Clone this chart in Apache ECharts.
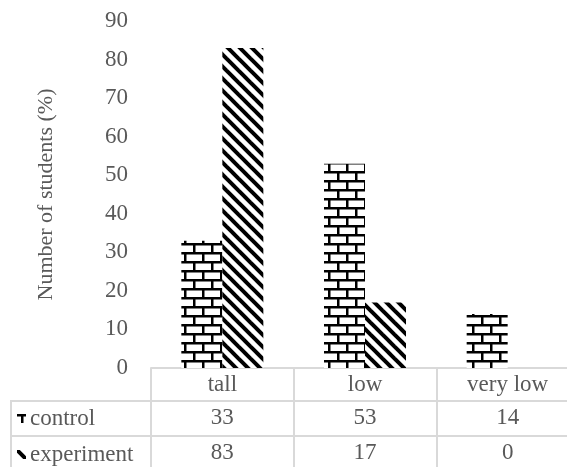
<!DOCTYPE html>
<html>
<head>
<meta charset="utf-8">
<script src="https://cdn.jsdelivr.net/npm/echarts@6/dist/echarts.min.js"></script>
<style>
html,body{margin:0;padding:0;background:#fff;}
#chart{width:567px;height:467px;}
</style>
</head>
<body>
<div id="chart"></div>
<script>
var categories = ['tall', 'low', 'very low'];
var controlValues = [33, 53, 14];
var experimentValues = [83, 17, 0];
var seriesNames = ['control', 'experiment'];
var yTitle = 'Number of students (%)';

var FONT = 'Liberation Serif';
var TXT = '#595959';
var LINE = '#d9d9d9';
var FS = 23;

function brickPattern() {
  var c = document.createElement('canvas');
  c.width = 18; c.height = 18;
  var g = c.getContext('2d');
  g.fillStyle = '#fff'; g.fillRect(0, 0, 18, 18);
  g.fillStyle = '#000';
  g.fillRect(0, 0, 18, 2.5);
  g.fillRect(0, 9, 18, 2.5);
  g.fillRect(4, 0, 2.5, 9);
  g.fillRect(13, 9, 2.5, 9);
  return c;
}
function stripePattern() {
  var s = 12;
  var c = document.createElement('canvas');
  c.width = s; c.height = s;
  var g = c.getContext('2d');
  g.fillStyle = '#fff'; g.fillRect(0, 0, s, s);
  g.strokeStyle = '#000'; g.lineWidth = 4;
  for (var k = -1; k <= 1; k++) {
    g.beginPath();
    g.moveTo(k * s - 2, -2);
    g.lineTo(k * s + s + 2, s + 2);
    g.stroke();
  }
  return c;
}

var chart = echarts.init(document.getElementById('chart'));
var gridLeft = 151, gridTop = 21, gridBottom = 99;

var option = {
  animation: false,
  textStyle: { fontFamily: FONT },
  grid: { left: gridLeft, width: 428, top: gridTop, bottom: gridBottom, containLabel: false, outerBoundsMode: 'none' },
  legend: {
    data: seriesNames,
    orient: 'vertical',
    left: 17, top: 407,
    padding: 0,
    itemWidth: 9, itemHeight: 9,
    itemGap: 13,
    icon: 'rect',
    selectedMode: false,
    textStyle: { fontFamily: FONT, fontSize: FS, color: TXT, lineHeight: 22, padding: [0,0,0,-1] }
  },
  xAxis: [
    {
      type: 'category', data: categories, position: 'bottom',
      axisLine: { show: true, lineStyle: { color: LINE, width: 2 } },
      axisTick: { show: true, interval: 0, length: 110, lineStyle: { color: LINE, width: 2 } },
      axisLabel: { interval: 0, margin: 5, fontFamily: FONT, fontSize: FS, color: TXT }
    },
    {
      type: 'category', data: categories, position: 'bottom', offset: 33,
      axisLine: { show: true, lineStyle: { color: LINE, width: 2 } },
      axisTick: { show: false },
      axisLabel: { interval: 0, margin: 5, fontFamily: FONT, fontSize: FS, color: TXT,
        formatter: function (v, i) { return String(controlValues[i]); } }
    },
    {
      type: 'category', data: categories, position: 'bottom', offset: 68,
      axisLine: { show: true, lineStyle: { color: LINE, width: 2 } },
      axisTick: { show: false },
      axisLabel: { interval: 0, margin: 5, fontFamily: FONT, fontSize: FS, color: TXT,
        formatter: function (v, i) { return String(experimentValues[i]); } }
    }
  ],
  yAxis: {
    type: 'value', min: 0, max: 90, interval: 10,
    name: yTitle, nameLocation: 'middle', nameGap: 94, nameRotate: 90,
    nameTextStyle: { fontFamily: FONT, fontSize: 22, color: TXT },
    axisLine: { show: false }, axisTick: { show: false }, splitLine: { show: false },
    axisLabel: { margin: 23, fontFamily: FONT, fontSize: FS, color: TXT }
  },
  series: [
    {
      name: seriesNames[0], type: 'bar', data: controlValues, barWidth: 41, barGap: '0%',
      itemStyle: { color: { image: brickPattern(), repeat: 'repeat' } }
    },
    {
      name: seriesNames[1], type: 'bar', data: experimentValues, barWidth: 41, barGap: '0%',
      itemStyle: { color: { image: stripePattern(), repeat: 'repeat' } }
    }
  ],
  graphic: [
    { type: 'line', shape: { x1: 11, y1: 401, x2: gridLeft, y2: 401 }, style: { stroke: LINE, lineWidth: 2 } },
    { type: 'line', shape: { x1: 11, y1: 436, x2: gridLeft, y2: 436 }, style: { stroke: LINE, lineWidth: 2 } },
    { type: 'line', shape: { x1: 11, y1: 400, x2: 11, y2: 467 }, style: { stroke: LINE, lineWidth: 2 } }
  ]
};
chart.setOption(option);
</script>
</body>
</html>
